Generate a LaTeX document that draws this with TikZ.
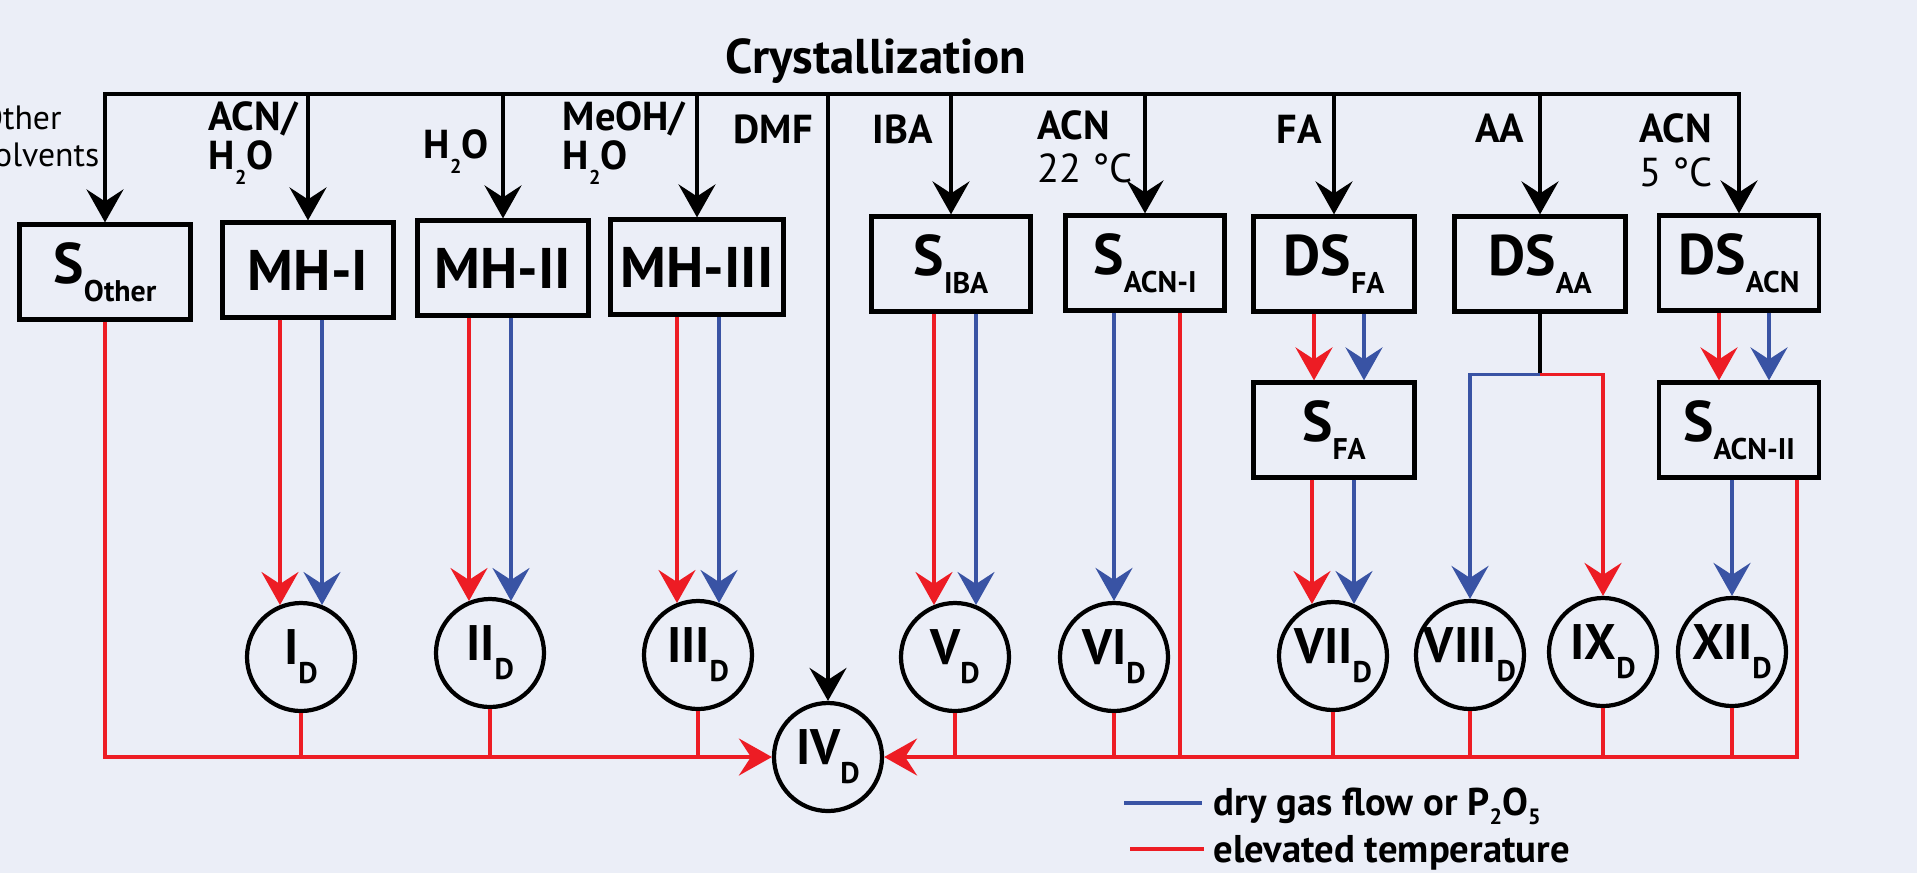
\documentclass[tikz,border=0pt]{standalone}
\usepackage{fontspec}
\setmainfont{PT Sans}
\usetikzlibrary{arrows.meta,positioning,calc}

\definecolor{paper}{RGB}{235,238,247}
\definecolor{hotred}{RGB}{237,28,36}
\definecolor{gasblue}{RGB}{57,83,164}

% lowered subscript: drop, size, text
\newcommand\lowsub[3]{\raisebox{-#1}{\fontsize{#2}{#2}\selectfont #3}}
\newcommand\bsub[1]{\lowsub{5.1pt}{8.5pt}{#1}}   % in boxes
\newcommand\csub[1]{\lowsub{5.4pt}{8.5pt}{#1}}   % in circles
\newcommand\lsub[1]{\lowsub{4.3pt}{5.7pt}{#1}}   % in labels

\begin{document}
\begin{tikzpicture}[
    x=0.1mm, y=-0.1mm,
    form/.style={draw, line width=1.2pt, minimum height=9.5mm, inner sep=0pt,
        font=\fontsize{16.3pt}{18pt}\selectfont\bfseries},
    phase/.style={draw, circle, line width=1.2pt, minimum size=10.8mm, inner sep=0pt,
        font=\fontsize{14.2pt}{16pt}\selectfont\bfseries},
    solv/.style={inner sep=0pt, align=left, anchor=base west,
        font=\fontsize{11.5pt}{11pt}\selectfont\bfseries},
    key/.style={inner sep=0pt, anchor=base west,
        font=\fontsize{11pt}{12pt}\selectfont\bfseries},
    tip/.style={-{Stealth[length=3.3mm,width=3.7mm,inset=1.2mm]}},
    feed/.style={line width=1pt, tip},
    heat/.style={hotred, line width=1pt},
    dry/.style={gasblue, line width=1pt}
]

\fill[paper] (0,0) rectangle (1917,873);
\useasboundingbox (0,0) rectangle (1917,873);

\coordinate (bus) at (0,94);   % level of crystallization line

% solid forms from crystallization
\node[form, minimum width=17.1mm] (sother) at (105,272) {S\bsub{Other}};
\node[form, minimum width=17.1mm] (mh1) at (308,270) {MH-I};
\node[form, minimum width=17.1mm] (mh2) at (503,268) {MH-II};
\node[form, minimum width=17.3mm] (mh3) at (697,267) {MH-III};
\node[form, minimum width=15.9mm] (sIBA) at (951,264) {S\bsub{IBA}};
\node[form, minimum width=15.9mm] (sACN1) at (1145,263) {S\bsub{ACN-I}};
\node[form, minimum width=16.1mm] (dsFA) at (1334,264) {DS\bsub{FA}};
\node[form, minimum width=17.1mm] (dsAA) at (1540,264) {DS\bsub{AA}};
\node[form, minimum width=16.0mm] (dsACN) at (1739,263) {DS\bsub{ACN}};
\node[form, minimum width=16.1mm] (sFA) at (1334,430) {S\bsub{FA}};
\node[form, minimum width=16.0mm] (sACN2) at (1739,430) {S\bsub{ACN-II}};

% desolvated phases
\node[phase] (I) at (301,657) {I\csub{D}};
\node[phase] (II) at (490,653) {II\csub{D}};
\node[phase] (III) at (698,655) {III\csub{D}};
\node[phase] (IV) at (828,757) {IV\csub{D}};
\node[phase] (V) at (955,657) {V\csub{D}};
\node[phase] (VI) at (1114,657) {VI\csub{D}};
\node[phase] (VII) at (1333,656) {VII\csub{D}};
\node[phase] (VIII) at (1470,655) {VIII\csub{D}};
\node[phase] (IX) at (1603,652) {IX\csub{D}};
\node[phase] (XII) at (1732,652) {XII\csub{D}};

% crystallization line and drops
\node[inner sep=0pt, anchor=base west, font=\fontsize{13.9pt}{15pt}\selectfont\bfseries]
    (cryst) at (725,73) {Crystallization};
\draw[line width=1pt, line cap=rect] (sother.north |- bus) -- (dsACN.north |- bus);
\foreach \n in {sother,mh1,mh2,mh3,sIBA,sACN1,dsFA,dsAA,dsACN}
    \draw[feed] (\n.north |- bus) -- (\n.north);
\draw[feed] (IV.north |- bus) -- (IV.north);

% solvent labels (base = last line)
\node[inner sep=0pt, align=left, anchor=base east,
    font=\fontsize{9.6pt}{10.4pt}\selectfont] (lother) at (100,166) {Other\\solvents};
\node[solv] (lmh1) at (208,169) {ACN/\\H\lsub{2}O};
\node[solv] (lmh2) at (423,158) {H\lsub{2}O};
\node[solv] (lmh3) at (562,169) {MeOH/\\H\lsub{2}O};
\node[solv] (ldmf) at (733,143) {DMF};
\node[solv] (liba) at (872,143) {IBA};
\node[solv, font=\fontsize{11.5pt}{12pt}\selectfont] (lacn1) at (1037,182)
    {\textbf{ACN}\\22 °C};
\node[solv] (lfa) at (1276,143) {FA};
\node[solv] (laa) at (1475,142) {AA};
\node[solv, font=\fontsize{11.5pt}{12.5pt}\selectfont] (lacn2) at (1639,186)
    {\textbf{ACN}\\5 °C};

% hydrates and solvates to desolvated forms
\foreach \a/\b in {mh1/I,mh2/II,mh3/III,sIBA/V,sFA/VII}{
    \draw[heat, tip] (\a.south -| \b.112) -- (\b.112);
    \draw[dry, tip] (\a.south -| \b.68) -- (\b.68);
}
\draw[dry, tip] (sACN1.south -| VI.north) -- (VI.north);
\draw[dry, tip] (sACN2.south -| XII.north) -- (XII.north);

\draw[heat, tip] ([xshift=-2mm]dsFA.south) -- ([xshift=-2mm]sFA.north);
\draw[dry, tip] ([xshift=3mm]dsFA.south) -- ([xshift=3mm]sFA.north);
\draw[heat, tip] ([xshift=-2mm]dsACN.south) -- ([xshift=-2mm]sACN2.north);
\draw[dry, tip] ([xshift=3mm]dsACN.south) -- ([xshift=3mm]sACN2.north);

\coordinate (aafork) at ($(dsAA.south)+(0,61)$);
\draw[line width=1pt] (dsAA.south) -- (aafork);
\draw[dry, tip] (aafork) -| (VIII.north);
\draw[heat, tip] (aafork) -| (IX.north);

% heating line into IV_D
\coordinate (acn1hot) at ([xshift=3.5mm]sACN1.south);
\coordinate (acn2hot) at ([xshift=5.8mm]sACN2.south);
\draw[heat, tip] (sother.south) |- (IV.west);
\draw[heat, tip] (acn2hot) |- (IV.east);
\draw[heat] (acn1hot) -- (acn1hot |- IV.east);
\foreach \c in {I,II,III,V,VI,VII,VIII,IX,XII}
    \draw[heat] (\c.south) -- (\c.south |- IV.east);

% legend
\node[key] (keydry) at (1213,815) {dry gas flow or P\lowsub{2.8pt}{6.3pt}{2}O\lowsub{2.8pt}{6.3pt}{5}};
\node[key] (keyhot) at (1213,862) {elevated temperature};
\coordinate (keydryA) at (1124,803);
\coordinate (keyhotA) at (1130,849);
\draw[dry] (keydryA) -- ([xshift=-1.1mm]keydry.west |- keydryA);
\draw[heat] (keyhotA) -- ([xshift=-0.9mm]keyhot.west |- keyhotA);
\end{tikzpicture}
\end{document}
